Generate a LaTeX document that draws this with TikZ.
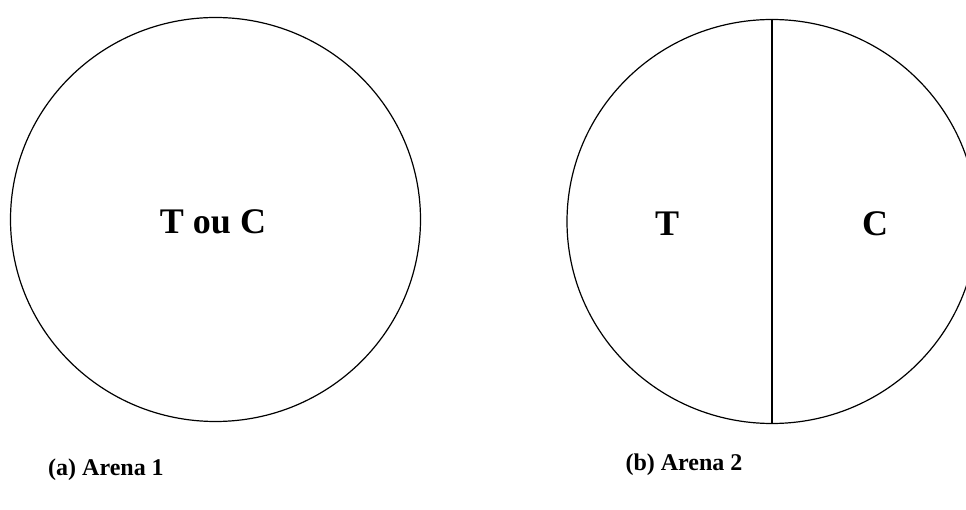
\documentclass[tikz,border=0pt]{standalone}
\usepackage{fontspec}
\setmainfont{Liberation Serif}
\usepackage{tikz}
\usetikzlibrary{shapes.geometric}

\begin{document}
\begin{tikzpicture}[x=1pt,y=-1pt,
	arena/.style={draw,ellipse,line width=1.2pt,inner sep=0pt,minimum width=410pt,minimum height=404pt},
	inlabel/.style={font=\fontsize{36}{40}\selectfont\bfseries},
	caption/.style={font=\fontsize{24}{28}\selectfont\bfseries}]
	  \useasboundingbox (0,0) rectangle (966,510);
	  \clip (0,0) rectangle (966,510);
	  \node[arena] (a1) at (215.5,219.5) {};
	  \node[arena] (a2) at (772,221.5) {};
	  \draw[line width=1.4pt] (a2.north) -- (a2.south);
	  \node[inlabel] (tc) at (213,221.5) {T ou C};
	  \node[inlabel] (t) at (667,224) {T};
	  \node[inlabel] (c) at (875,224) {C};
	  \node[caption] (capa) at (106,470) {(a) Arena 1};
	  \node[caption] (capb) at (684,465) {(b) Arena 2};
	\end{tikzpicture}
\end{document}
